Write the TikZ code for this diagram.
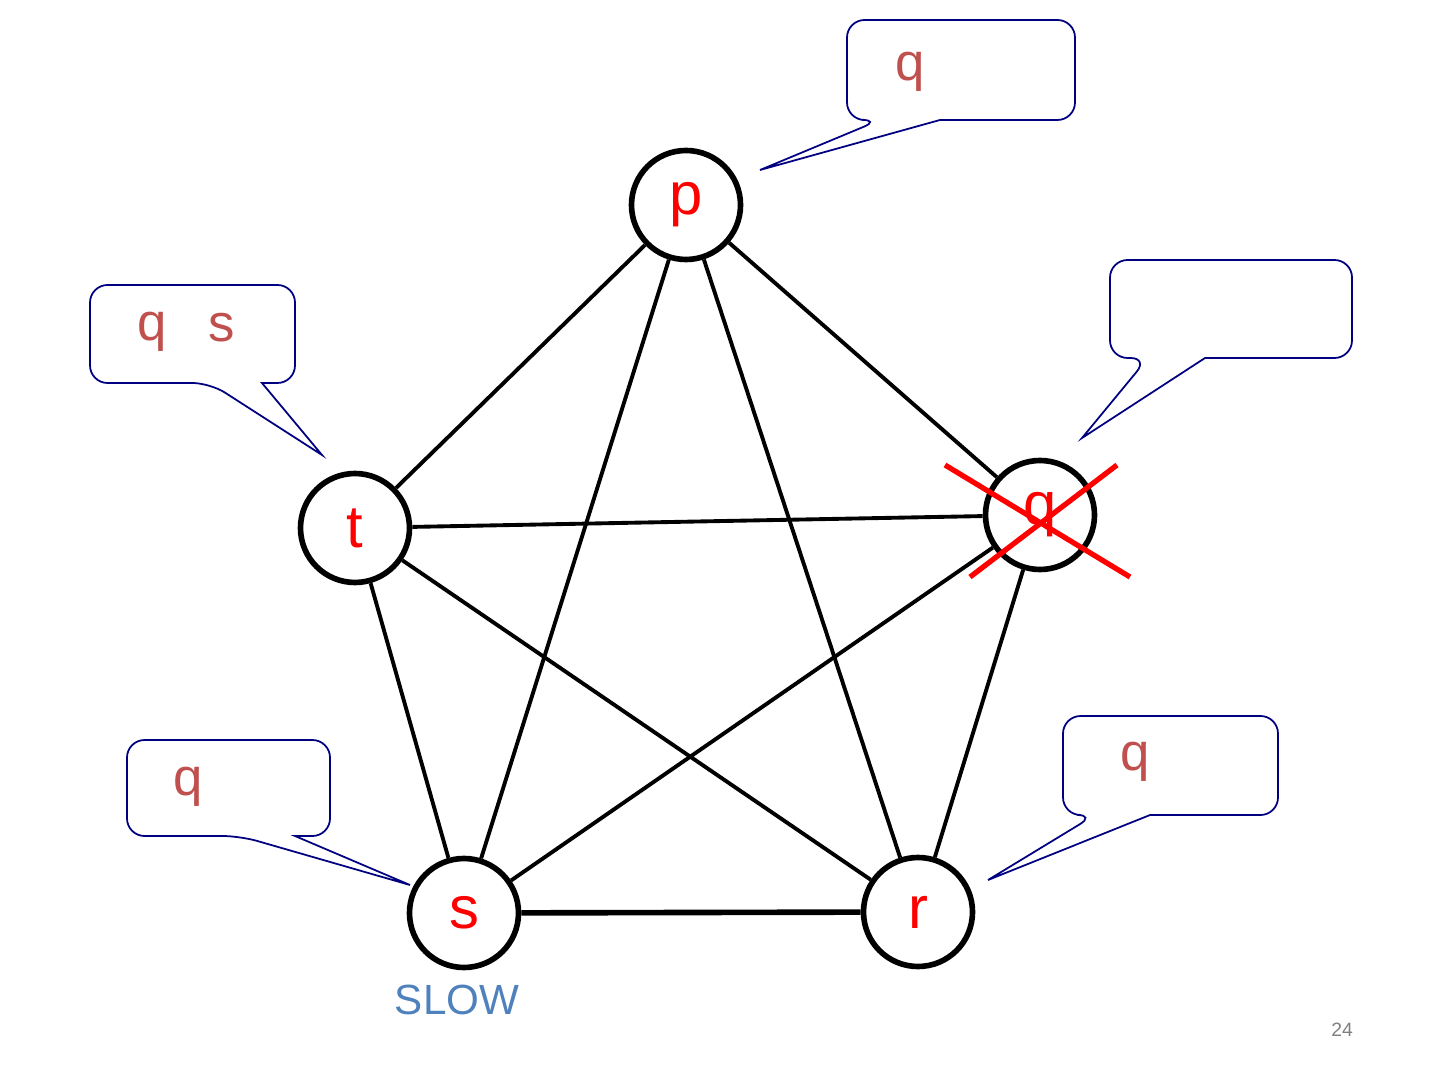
\documentclass[tikz,border=0pt]{standalone}
\usepackage{fontspec}
\setmainfont{Liberation Sans}
\begin{document}
\begin{tikzpicture}[x=0.01cm,y=-0.01cm,
  nd/.style={circle,draw,line width=1.6pt,minimum size=31pt,inner sep=0pt,text=red,font=\fontsize{17}{17}\selectfont},
  ed/.style={line width=1.1pt},
  co/.style={draw=blue!50!black,line width=0.5pt,fill=white},
  ct/.style={text={rgb,255:red,192;green,80;blue,77},font=\fontsize{15}{15}\selectfont}]
\useasboundingbox (0,0) rectangle (1440,1080);
\node[nd] (p) at (686,205) {p};
\node[nd] (t) at (355,528) {t};
\node[nd] (q) at (1040,515) {q};
\node[nd] (s) at (464,913) {s};
\node[nd] (r) at (918,912) {r};
\foreach \a/\b in {p/t,p/q,p/s,p/r,t/q,t/s,t/r,q/s,q/r}
  \draw[ed] (\a) -- (\b);
\draw[line width=1.6pt] (s) -- (r);
% cross
\coordinate (x1) at (945,465); \coordinate (x2) at (1130,577);
\coordinate (x3) at (970,577); \coordinate (x4) at (1117,465);
\draw[red,line width=1.5pt] (x1) -- (x2) (x3) -- (x4);
% callouts
\draw[co] (880,120) -- (760,170) -- (940,120) [rounded corners=5pt] -- (1075,120) -- (1075,20) -- (847,20) -- (847,120) -- cycle;
\node[ct] at (910,72) {q};
\draw[co] (1148,358) -- (1082,438) -- (1205,358) [rounded corners=5pt] -- (1352,358) -- (1352,260) -- (1110,260) -- (1110,358) -- cycle;
\draw[co] (210,383) -- (322,455) -- (262,383) [rounded corners=5pt] -- (295,383) -- (295,285) -- (90,285) -- (90,383) -- cycle;
\node[ct] at (152,332) {q};
\node[ct] at (222,328) {s};
\draw[co] (240,836) -- (410,885) -- (295,836) [rounded corners=5pt] -- (330,836) -- (330,740) -- (127,740) -- (127,836) -- cycle;
\node[ct] at (188,787) {q};
\draw[co] (1095,815) -- (988,880) -- (1150,815) [rounded corners=5pt] -- (1278,815) -- (1278,716) -- (1063,716) -- (1063,815) -- cycle;
\node[ct] at (1135,762) {q};
\node[text={rgb,255:red,79;green,129;blue,189},font=\fontsize{12}{12}\selectfont] (slow) at (457,1000) {SLOW};
\node[text=gray,font=\fontsize{5.5}{6}\selectfont] (pg) at (1342,1030) {24};
\end{tikzpicture}
\end{document}
